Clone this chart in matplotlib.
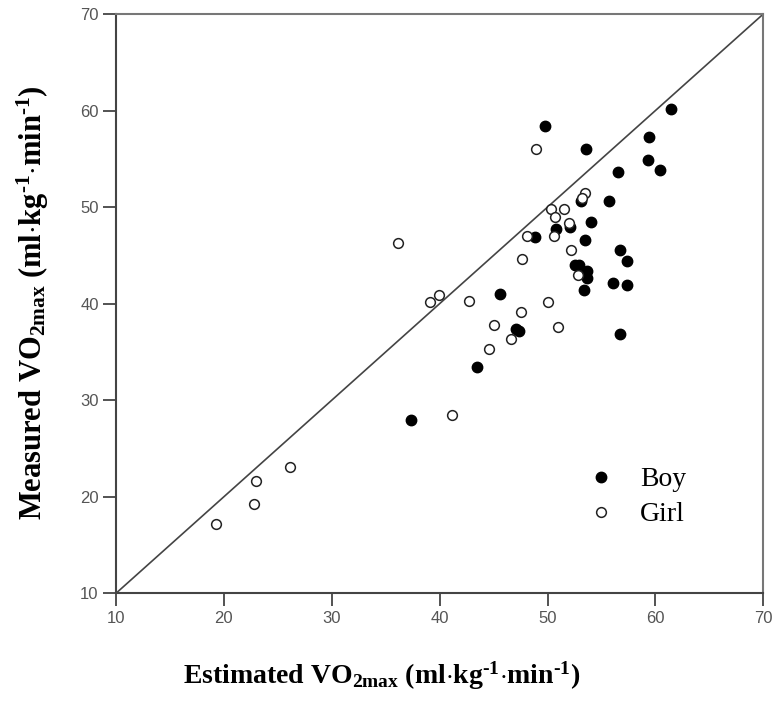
import matplotlib
matplotlib.use("Agg")
import matplotlib.pyplot as plt

# Boys (filled)
boy_est = [61.4, 49.8, 53.6, 59.4, 59.3, 60.4, 56.5, 55.7, 53.1, 54.0, 50.8, 52.1,
           48.8, 53.5, 56.7, 57.4, 52.5, 52.9, 53.7, 53.7, 56.1, 57.4, 53.4, 45.6,
           47.1, 47.4, 56.7, 43.5, 37.3]
boy_meas = [60.2, 58.4, 56.0, 57.3, 54.9, 53.8, 53.6, 50.6, 50.6, 48.5, 47.7, 47.9,
            46.9, 46.6, 45.6, 44.4, 44.0, 44.0, 43.4, 42.7, 42.1, 41.9, 41.4, 41.0,
            37.4, 37.2, 36.9, 33.4, 27.9]

# Girls (open)
girl_est = [36.1, 48.9, 53.5, 53.2, 50.3, 51.5, 50.7, 52.0, 50.6, 48.1, 52.2, 47.6,
            52.8, 39.9, 39.1, 42.7, 50.0, 47.5, 45.0, 51.0, 46.6, 44.6, 41.1,
            19.3, 22.8, 23.0, 26.1]
girl_meas = [46.3, 56.0, 51.5, 50.9, 49.8, 49.8, 49.0, 48.4, 47.0, 47.0, 45.6, 44.6,
             43.0, 40.9, 40.2, 40.3, 40.2, 39.1, 37.8, 37.6, 36.3, 35.3, 28.5,
             17.2, 19.3, 21.6, 23.1]

ticks = [10, 20, 30, 40, 50, 60, 70]

plt.rcParams["mathtext.fontset"] = "custom"
plt.rcParams["mathtext.rm"] = "Liberation Serif:bold"
plt.rcParams["mathtext.bf"] = "Liberation Serif:bold"
plt.rcParams["mathtext.it"] = "Liberation Serif:bold"

fig = plt.figure(figsize=(7.74, 7.02), dpi=100)
ax = fig.add_axes([116 / 774, 1 - 593.3 / 702, (763.3 - 116) / 774, (593.3 - 14) / 702])

ax.plot([10, 70], [10, 70], color="#444444", lw=1.2, zorder=1)
ax.plot(boy_est, boy_meas, "o", ms=7.5, mfc="black", mec="black", mew=1.0,
        ls="none", label="Boy", zorder=3)
ax.plot(girl_est, girl_meas, "o", ms=7, mfc="white", mec="#222222", mew=1.1,
        ls="none", label="Girl", zorder=3)

ax.set_xlim(10, 70)
ax.set_ylim(10, 70)
ax.set_xticks(ticks)
ax.set_yticks(ticks)
ax.tick_params(direction="out", length=9.5, width=1.3, color="#444444",
               labelsize=12, labelcolor="#555555", pad=3)
for lab in ax.get_xticklabels() + ax.get_yticklabels():
    lab.set_family("Liberation Sans")

for side in ["left", "bottom"]:
    ax.spines[side].set_color("#444444")
    ax.spines[side].set_linewidth(1.5)
for side in ["top", "right"]:
    ax.spines[side].set_color("#777777")
    ax.spines[side].set_linewidth(1.5)

hy = "\u2010"
unit = (r"(ml$\cdot$kg$^{\mathrm{" + hy + r"1}}$$\cdot$min$^{\mathrm{" + hy + r"1}}$)")
ax.set_xlabel(r"Estimated VO$_{\mathrm{2max}}$ " + unit,
              fontsize=20, fontfamily="Liberation Serif", fontweight="bold")
ax.xaxis.set_label_coords((382 - 116) / 647.3, -0.115)
ax.set_ylabel(r"Measured VO$_{\mathrm{2max}}$ " + unit,
              fontsize=22, fontfamily="Liberation Serif", fontweight="bold")
ax.yaxis.set_label_coords(-0.100, (593.3 - 303) / 579.3)

leg = ax.legend(loc="lower right", bbox_to_anchor=(0.919, 0.0706), frameon=False,
                prop={"family": "Liberation Serif", "size": 20},
                handletextpad=0.9, labelspacing=0.35, handlelength=1.0)

fig.savefig("out.png", dpi=100)
